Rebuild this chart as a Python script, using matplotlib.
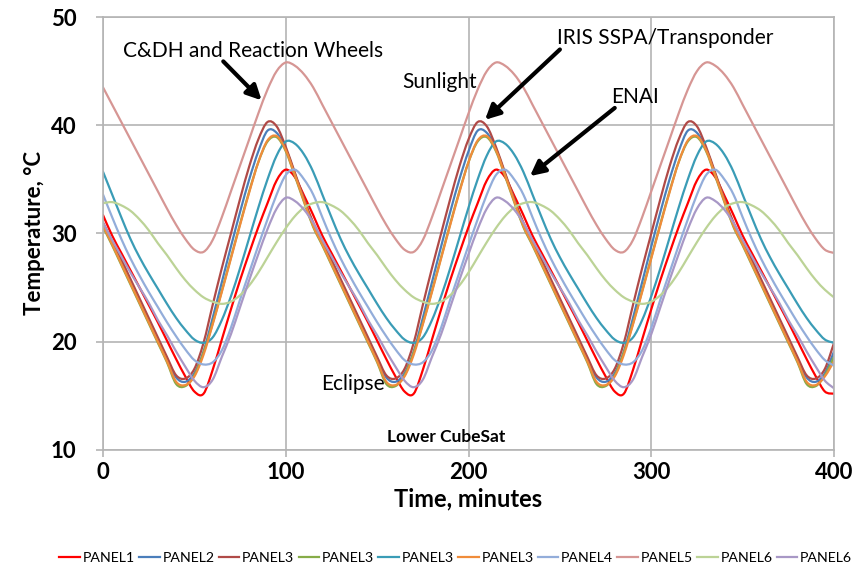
import numpy as np
import matplotlib
matplotlib.use('Agg')
import matplotlib.pyplot as plt
from matplotlib.path import Path
from matplotlib.patches import PathPatch
from matplotlib.lines import Line2D

plt.rcParams['font.family'] = ['Lato', 'DejaVu Sans']

# time axis, minutes (5 min steps)
time = list(range(0, 401, 5))

# temperatures, one row per orbit
panel1 = [31.7, 29.8, 28.2, 26.6, 25.0, 23.4, 21.8, 20.1, 18.4, 16.8, 15.4, 15.2, 17.4, 20.2, 23.0, 25.7, 28.2, 30.6, 32.8, 34.9, 35.9, 35.2, 33.5,
          31.7, 29.8, 28.2, 26.6, 25.0, 23.4, 21.8, 20.1, 18.4, 16.8, 15.4, 15.2, 17.4, 20.2, 23.0, 25.7, 28.2, 30.6, 32.8, 34.9, 35.9, 35.2, 33.5,
          31.7, 29.8, 28.2, 26.6, 25.0, 23.4, 21.8, 20.1, 18.4, 16.8, 15.4, 15.2, 17.4, 20.2, 23.0, 25.7, 28.2, 30.6, 32.8, 34.9, 35.9, 35.2, 33.5,
          31.7, 29.8, 28.2, 26.6, 25.0, 23.4, 21.8, 20.1, 18.4, 16.8, 15.4, 15.2]
panel2 = [30.9, 29.2, 27.4, 25.6, 23.8, 22.0, 20.2, 18.4, 16.7, 16.3, 17.1, 19.1, 22.2, 25.5, 28.8, 32.0, 35.0, 37.6, 39.5, 39.3, 37.8, 35.5, 33.1,
          30.9, 29.2, 27.4, 25.6, 23.8, 22.0, 20.2, 18.4, 16.7, 16.3, 17.1, 19.1, 22.2, 25.5, 28.8, 32.0, 35.0, 37.6, 39.5, 39.3, 37.8, 35.5, 33.1,
          30.9, 29.2, 27.4, 25.6, 23.8, 22.0, 20.2, 18.4, 16.7, 16.3, 17.1, 19.1, 22.2, 25.5, 28.8, 32.0, 35.0, 37.6, 39.5, 39.3, 37.8, 35.5, 33.1,
          30.9, 29.2, 27.4, 25.6, 23.8, 22.0, 20.2, 18.4, 16.7, 16.3, 17.1, 19.1]
panel3_a = [31.0, 29.3, 27.6, 25.8, 24.0, 22.2, 20.4, 18.6, 16.9, 16.6, 17.5, 19.9, 23.4, 26.8, 30.0, 33.2, 36.2, 38.7, 40.3, 39.9, 38.0, 35.6, 33.2,
            31.0, 29.3, 27.6, 25.8, 24.0, 22.2, 20.4, 18.6, 16.9, 16.6, 17.5, 19.9, 23.4, 26.8, 30.0, 33.2, 36.2, 38.7, 40.3, 39.9, 38.0, 35.6, 33.2,
            31.0, 29.3, 27.6, 25.8, 24.0, 22.2, 20.4, 18.6, 16.9, 16.6, 17.5, 19.9, 23.4, 26.8, 30.0, 33.2, 36.2, 38.7, 40.3, 39.9, 38.0, 35.6, 33.2,
            31.0, 29.3, 27.6, 25.8, 24.0, 22.2, 20.4, 18.6, 16.9, 16.6, 17.5, 19.9]
panel3_b = [30.6, 28.9, 27.1, 25.3, 23.5, 21.7, 19.9, 18.1, 16.1, 15.9, 16.9, 19.0, 21.7, 24.7, 27.8, 30.9, 33.9, 36.6, 38.5, 38.9, 37.6, 35.3, 32.9,
            30.6, 28.9, 27.1, 25.3, 23.5, 21.7, 19.9, 18.1, 16.1, 15.9, 16.9, 19.0, 21.7, 24.7, 27.8, 30.9, 33.9, 36.6, 38.5, 38.9, 37.6, 35.3, 32.9,
            30.6, 28.9, 27.1, 25.3, 23.5, 21.7, 19.9, 18.1, 16.1, 15.9, 16.9, 19.0, 21.7, 24.7, 27.8, 30.9, 33.9, 36.6, 38.5, 38.9, 37.6, 35.3, 32.9,
            30.6, 28.9, 27.1, 25.3, 23.5, 21.7, 19.9, 18.1, 16.1, 15.9, 16.9, 18.6]
panel3_c = [35.7, 33.6, 31.5, 29.5, 27.8, 26.3, 24.9, 23.5, 22.2, 21.1, 20.2, 19.9, 20.4, 22.0, 24.2, 26.8, 29.6, 32.4, 35.0, 37.2, 38.5, 38.3, 37.3,
            35.7, 33.6, 31.5, 29.5, 27.8, 26.3, 24.9, 23.5, 22.2, 21.1, 20.2, 19.9, 20.4, 22.0, 24.2, 26.8, 29.6, 32.4, 35.0, 37.2, 38.5, 38.3, 37.3,
            35.7, 33.6, 31.5, 29.5, 27.8, 26.3, 24.9, 23.5, 22.2, 21.1, 20.2, 19.9, 20.4, 22.0, 24.2, 26.8, 29.6, 32.4, 35.0, 37.2, 38.5, 38.3, 37.3,
            35.7, 33.6, 31.5, 29.5, 27.8, 26.3, 24.9, 23.5, 22.2, 21.1, 20.2, 19.9]
panel3_d = [30.7, 29.0, 27.2, 25.4, 23.6, 21.8, 20.0, 18.2, 16.3, 16.0, 16.8, 18.8, 21.6, 24.6, 27.7, 30.8, 33.8, 36.6, 38.6, 39.0, 37.7, 35.4, 33.0,
            30.7, 29.0, 27.2, 25.4, 23.6, 21.8, 20.0, 18.2, 16.3, 16.0, 16.8, 18.8, 21.6, 24.6, 27.7, 30.8, 33.8, 36.6, 38.6, 39.0, 37.7, 35.4, 33.0,
            30.7, 29.0, 27.2, 25.4, 23.6, 21.8, 20.0, 18.2, 16.3, 16.0, 16.8, 18.8, 21.6, 24.6, 27.7, 30.8, 33.8, 36.6, 38.6, 39.0, 37.7, 35.4, 33.0,
            30.7, 29.0, 27.2, 25.4, 23.6, 21.8, 20.0, 18.2, 16.3, 16.0, 16.8, 18.2]
panel4 = [33.6, 31.5, 29.5, 27.7, 26.1, 24.6, 23.2, 21.8, 20.5, 19.3, 18.3, 17.9, 18.1, 19.2, 21.3, 23.9, 26.4, 28.9, 31.3, 33.6, 35.4, 35.9, 35.0,
          33.6, 31.5, 29.5, 27.7, 26.1, 24.6, 23.2, 21.8, 20.5, 19.3, 18.3, 17.9, 18.1, 19.2, 21.3, 23.9, 26.4, 28.9, 31.3, 33.6, 35.4, 35.9, 35.0,
          33.6, 31.5, 29.5, 27.7, 26.1, 24.6, 23.2, 21.8, 20.5, 19.3, 18.3, 17.9, 18.1, 19.2, 21.3, 23.9, 26.4, 28.9, 31.3, 33.6, 35.4, 35.9, 35.0,
          33.6, 31.5, 29.5, 27.7, 26.1, 24.6, 23.2, 21.8, 20.5, 19.3, 18.3, 17.8]
panel5 = [43.5, 41.9, 40.3, 38.7, 37.1, 35.5, 33.9, 32.3, 30.8, 29.5, 28.5, 28.3, 29.4, 31.5, 33.9, 36.3, 38.7, 41.1, 43.3, 45.0, 45.8, 45.5, 44.7,
          43.5, 41.9, 40.3, 38.7, 37.1, 35.5, 33.9, 32.3, 30.8, 29.5, 28.5, 28.3, 29.4, 31.5, 33.9, 36.3, 38.7, 41.1, 43.3, 45.0, 45.8, 45.5, 44.7,
          43.5, 41.9, 40.3, 38.7, 37.1, 35.5, 33.9, 32.3, 30.8, 29.5, 28.5, 28.3, 29.4, 31.5, 33.9, 36.3, 38.7, 41.1, 43.3, 45.0, 45.8, 45.5, 44.7,
          43.5, 41.9, 40.3, 38.7, 37.1, 35.5, 33.9, 32.3, 30.8, 29.5, 28.5, 28.2]
panel6_a = [32.8, 32.9, 32.6, 32.1, 31.3, 30.3, 29.1, 28.0, 26.8, 25.7, 24.8, 24.1, 23.7, 23.5, 23.7, 24.3, 25.2, 26.4, 27.8, 29.2, 30.5, 31.6, 32.4,
            32.8, 32.9, 32.6, 32.1, 31.3, 30.3, 29.1, 28.0, 26.8, 25.7, 24.8, 24.1, 23.7, 23.5, 23.7, 24.3, 25.2, 26.4, 27.8, 29.2, 30.5, 31.6, 32.4,
            32.8, 32.9, 32.6, 32.1, 31.3, 30.3, 29.1, 28.0, 26.8, 25.7, 24.8, 24.1, 23.7, 23.5, 23.7, 24.3, 25.2, 26.4, 27.8, 29.2, 30.5, 31.6, 32.4,
            32.8, 32.9, 32.6, 32.1, 31.3, 30.3, 29.1, 28.0, 26.8, 25.7, 24.8, 24.1]
panel6_b = [31.0, 29.4, 27.9, 26.4, 25.0, 23.6, 22.0, 20.6, 19.1, 17.7, 16.4, 15.8, 16.5, 18.6, 20.7, 23.2, 25.7, 28.1, 30.4, 32.3, 33.3, 33.0, 32.2,
            31.0, 29.4, 27.9, 26.4, 25.0, 23.6, 22.0, 20.6, 19.1, 17.7, 16.4, 15.8, 16.5, 18.6, 20.7, 23.2, 25.7, 28.1, 30.4, 32.3, 33.3, 33.0, 32.2,
            31.0, 29.4, 27.9, 26.4, 25.0, 23.6, 22.0, 20.6, 19.1, 17.7, 16.4, 15.8, 16.5, 18.6, 20.7, 23.2, 25.7, 28.1, 30.4, 32.3, 33.3, 33.0, 32.2,
            31.0, 29.4, 27.9, 26.4, 25.0, 23.6, 22.0, 20.6, 19.1, 17.7, 16.4, 15.7]

series = [('PANEL1', panel1, '#FF0000'),
          ('PANEL2', panel2, '#4A7EBB'),
          ('PANEL3', panel3_a, '#B04A47'),
          ('PANEL3', panel3_b, '#86AC48'),
          ('PANEL3', panel3_c, '#3A9CB6'),
          ('PANEL3', panel3_d, '#F08C3A'),
          ('PANEL4', panel4, '#93ADDA'),
          ('PANEL5', panel5, '#D69694'),
          ('PANEL6', panel6_a, '#BCD396'),
          ('PANEL6', panel6_b, '#A898C6')]

grid_c = '#B4B4B4'
LW = 1.6


def smooth_path(x, y):
    # Excel style "smoothed line": bezier segments through the data points
    x = np.asarray(x, float)
    y = np.asarray(y, float)
    px = np.concatenate([[x[0]], x, [x[-1]]])
    py = np.concatenate([[y[0]], y, [y[-1]]])
    verts = [(x[0], y[0])]
    codes = [Path.MOVETO]
    for i in range(1, len(px) - 2):
        c1 = (px[i] + (px[i + 1] - px[i - 1]) / 6, py[i] + (py[i + 1] - py[i - 1]) / 6)
        c2 = (px[i + 1] - (px[i + 2] - px[i]) / 6, py[i + 1] - (py[i + 2] - py[i]) / 6)
        verts += [c1, c2, (px[i + 1], py[i + 1])]
        codes += [Path.CURVE4] * 3
    return Path(verts, codes)


fig = plt.figure(figsize=(8.6, 5.73), dpi=100)
ax = fig.add_axes([0.1198, 0.2147, 0.85, 0.7556])

handles = []
for name, vals, col in series:
    ax.add_patch(PathPatch(smooth_path(time, vals), fill=False, edgecolor=col, lw=LW,
                           capstyle='round', joinstyle='round'))
    handles.append(Line2D([], [], color=col, lw=LW, label=name))

ax.set_xlim(0, 400)
ax.set_ylim(10, 50)
ax.set_xticks([0, 100, 200, 300, 400])
ax.set_yticks([10, 20, 30, 40, 50])
ax.grid(True, color=grid_c, lw=1.2)
ax.set_axisbelow(True)
for s in ax.spines.values():
    s.set_color(grid_c)
    s.set_linewidth(1.2)
ax.tick_params(axis='both', colors=grid_c, length=5, width=1.2, labelcolor='black', labelsize=16)
ax.tick_params(axis='y', pad=14)
ax.tick_params(axis='x', pad=4)
for lab in ax.get_xticklabels() + ax.get_yticklabels():
    lab.set_fontweight('bold')

ax.set_xlabel('Time, minutes', fontsize=17, fontweight='bold', labelpad=3)
ax.set_ylabel('Temperature, °C', fontsize=16, fontweight='bold', labelpad=4)

# annotations
ax.text(82, 46.9, 'C&DH and Reaction Wheels', fontsize=15, ha='center', va='center')
ax.text(184, 44.0, 'Sunlight', fontsize=15, ha='center', va='center')
ax.text(307.5, 48.1, 'IRIS SSPA/Transponder', fontsize=15, ha='center', va='center')
ax.text(291, 42.6, 'ENAI', fontsize=15, ha='center', va='center')
ax.text(137, 16.1, 'Eclipse', fontsize=15, ha='center', va='center')
ax.text(188, 11.2, 'Lower CubeSat', fontsize=12.5, fontweight='bold', ha='center', va='center')

arrow = dict(arrowstyle='-|>', color='black', lw=3, mutation_scale=22, shrinkA=0, shrinkB=0)
ax.annotate('', xy=(86.8, 42.3), xytext=(65.8, 45.9), arrowprops=arrow)
ax.annotate('', xy=(209, 40.5), xytext=(250, 47.0), arrowprops=arrow)
ax.annotate('', xy=(233.6, 35.3), xytext=(280, 41.6), arrowprops=arrow)

fig.legend(handles=handles, loc='center', bbox_to_anchor=(0.53, 0.026), ncol=10, frameon=False,
           fontsize=10.2, handlelength=1.45, handletextpad=0.2, columnspacing=0.3)

fig.savefig('out.png', dpi=100)
